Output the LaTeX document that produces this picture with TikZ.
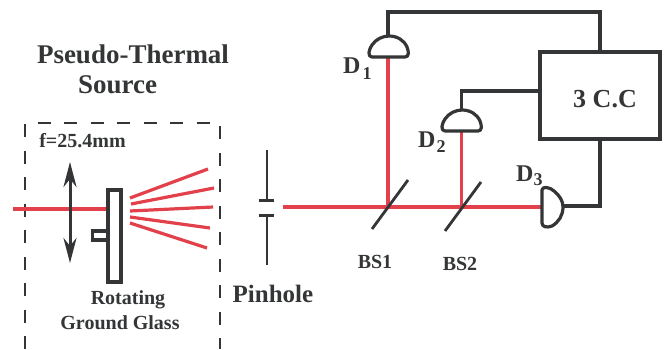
\documentclass[tikz,border=0pt]{standalone}
\usepackage{fontspec}
\setmainfont{Liberation Serif}
\usetikzlibrary{arrows.meta}
\definecolor{ink}{HTML}{333536}
\definecolor{beam}{HTML}{E2404A}
\newcommand{\detlabel}[3]{D\hspace{#3}\raisebox{-#2}{\fontsize{18}{20}\selectfont #1}}
\tikzset{
  wire/.style={draw=ink,line width=3.2pt,line join=miter},
  thinwire/.style={draw=ink,line width=2.8pt},
  ray/.style={draw=beam,line width=3.2pt},
  dashbox/.style={draw=ink,line width=2.1pt,dash pattern=on 13pt off 13.5pt},
  lbl/.style={text=ink,font=\bfseries,inner sep=0pt,align=center},
  boxed/.style={draw=ink,line width=3.2pt,fill=white,inner sep=0pt,minimum width=#1},
  det/.style={draw=ink,line width=3.2pt,fill=white,line join=round},
}
\begin{document}
\begin{tikzpicture}[x=1pt,y=-1pt]
\useasboundingbox (0,0) rectangle (664,349);
% source box
\draw[dashbox] (25,349) -- (25,123) -- (220,123) -- (220,349);
% coordinates
\coordinate (in) at (13,209);
\coordinate (lensT) at (70,162);
\coordinate (lensB) at (70,263);
\coordinate (phT) at (267,150);
\coordinate (phTb) at (267,200);
\coordinate (phB) at (267,265);
\coordinate (phBb) at (267,215);
\coordinate (beamS) at (283,207);
\coordinate (bs1) at (388,207);
\coordinate (bs2) at (461.5,207);
\coordinate (d1) at (388,56);
\coordinate (d2) at (461.5,130);
\coordinate (d3) at (543,207);
% glass
\node[boxed=13pt,minimum height=92pt] (glass) at (114.5,236) {};
\node[boxed=15pt,minimum height=9pt,anchor=east] (mount) at (109,235.5) {};
% beams
\draw[ray] (in) -- (glass.west |- in);
\draw[ray] (beamS) -- (d3);
\draw[ray] (bs1) -- (d1);
\draw[ray] (bs2) -- (d2);
% scattered rays
\foreach \a/\b/\c/\d in {130/198/208/169,131/204/214/188,130/211/213/207,130/217/210/228,130/223/207/248}
  \draw[ray] (\a,\b) -- (\c,\d);
% lens
\draw[draw=ink,line width=3pt,{Stealth[length=25pt,width=13pt,inset=8pt]}-{Stealth[length=25pt,width=13pt,inset=8pt]}] (lensT) -- (lensB);
% pinhole
\draw[thinwire] (phT) -- (phTb);
\draw[thinwire] (phB) -- (phBb);
\draw[draw=ink,line width=3pt] (259,200.5) -- (274,200.5);
\draw[draw=ink,line width=3pt] (259,215) -- (274,215);
% beam splitters
\draw[draw=ink,line width=2.8pt] (372,229) -- (408,180);
\draw[draw=ink,line width=2.8pt] (445,231) -- (481,182);
% coincidence box
\node[draw=ink,line width=3.2pt,minimum width=120pt,minimum height=87pt,inner sep=0pt] (cc) at (600,95.5) {};
\node[lbl,font=\fontsize{26}{28}\selectfont\bfseries] (cct) at (605,99) {3 C.C};
% detectors
\draw[det] (372,57) .. controls (367,57) and (369,49) .. (372,45) .. controls (376,39) and (383,36) .. (389,36) .. controls (397,36) and (404,40) .. (407,47) .. controls (409,52) and (409,57) .. (405,57) -- cycle;
\draw[det] (445,131) .. controls (440,131) and (442,123) .. (445,119) .. controls (449,113) and (456,110) .. (462,110) .. controls (470,110) and (477,114) .. (480,121) .. controls (482,126) and (482,131) .. (478,131) -- cycle;
\draw[det] (542,190) .. controls (542,186) and (550,187) .. (554,191) .. controls (560,196) and (563,201) .. (563,207) .. controls (563,215) and (559,222) .. (552,226) .. controls (547,228) and (542,227) .. (542,223) -- cycle;
% wires
\coordinate (d1top) at (388,36);
\coordinate (d2top) at (461.5,110);
\coordinate (d3out) at (564,206);
\draw[wire] (d1top) -- (388,12) -- (600,12) -- (cc.north);
\draw[wire] (d2top) -- (461.5,91) -- (cc.west |- 0,91);
\draw[wire] (d3out) -- (600,206) -- (cc.south);
% labels
\node[lbl,font=\fontsize{27}{29}\selectfont\bfseries] (t1) at (133,54) {Pseudo-Thermal};
\node[lbl,font=\fontsize{27}{29}\selectfont\bfseries] (t2) at (117.5,85) {Source};
\node[lbl,font=\fontsize{20}{22}\selectfont\bfseries] (f) at (82.5,141) {f=25.4mm};
\node[lbl,font=\fontsize{20}{22}\selectfont\bfseries] (r1) at (128,300) {Rotating};
\node[lbl,font=\fontsize{20}{22}\selectfont\bfseries] (r2) at (120,323) {Ground Glass};
\node[lbl,font=\fontsize{25}{27}\selectfont\bfseries] (ph) at (273,294) {Pinhole};
\node[lbl,font=\fontsize{20}{22}\selectfont\bfseries] (b1) at (375,262) {BS1};
\node[lbl,font=\fontsize{20}{22}\selectfont\bfseries] (b2) at (460,264) {BS2};
\node[lbl,font=\fontsize{24}{26}\selectfont\bfseries,anchor=base west] (l1) at (343,73) {\detlabel{1}{6pt}{2pt}};
\node[lbl,font=\fontsize{24}{26}\selectfont\bfseries,anchor=base west] (l2) at (418,147) {\detlabel{2}{5pt}{1pt}};
\node[lbl,font=\fontsize{24}{26}\selectfont\bfseries,anchor=base west] (l3) at (516,181) {\detlabel{3}{4pt}{0pt}};
\end{tikzpicture}
\end{document}
